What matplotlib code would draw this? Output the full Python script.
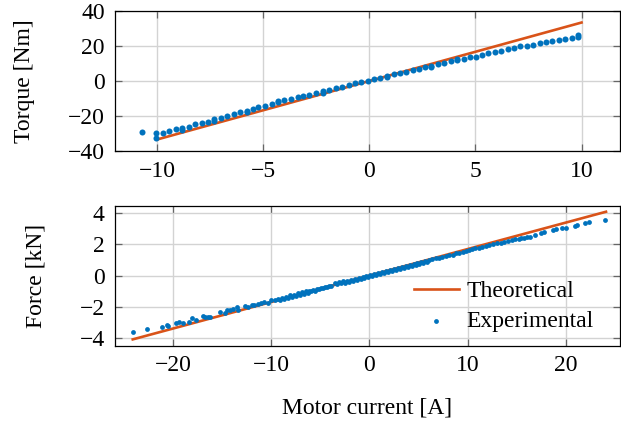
from matplotlib import pyplot as plt

# motor current vs torque (top)
theory_current_t = [-10.0, 10.0]
theory_torque = [-33.4, 33.4]
exp_current_t = [-10.73, -10.03, -10.03, -9.72, -9.42, -9.10, -8.80, -8.80, -8.50, -8.20,
                 -7.90, -7.60, -7.31, -7.31, -7.00, -6.70, -6.38, -6.08, -5.77, -5.77,
                 -5.50, -5.22, -4.90, -4.60, -4.28, -4.28, -4.00, -3.70, -3.38, -3.10,
                 -2.82, -2.50, -2.18, -2.18, -1.89, -1.57, -1.27, -0.96, -0.66, -0.38,
                 -0.08, 0.20, 0.52, 0.83, 0.83, 1.15, 1.43, 1.73, 2.04, 2.33, 2.64,
                 2.92, 2.92, 3.24, 3.54, 3.84, 4.14, 4.14, 4.45, 4.73, 5.05, 5.31,
                 5.58, 5.90, 6.21, 6.52, 6.81, 7.12, 7.41, 7.72, 8.03, 8.32, 8.60,
                 8.93, 9.23, 9.54, 9.83, 9.83]
exp_torque = [-29.0, -29.9, -32.7, -29.5, -28.6, -27.6, -27.0, -27.8, -26.1, -24.8,
              -24.2, -23.2, -21.7, -22.6, -21.0, -20.0, -19.0, -17.5, -17.0, -17.8,
              -16.0, -15.0, -14.1, -13.0, -11.4, -12.2, -10.9, -10.1, -9.3, -8.6,
              -7.8, -7.0, -5.9, -6.6, -5.1, -4.2, -3.2, -2.1, -1.3, -0.8,
              0.2, 1.1, 1.9, 3.0, 2.4, 3.8, 4.4, 5.3, 6.1, 6.9, 7.8,
              8.8, 8.2, 9.5, 10.5, 11.4, 12.0, 12.6, 12.6, 13.5, 13.9, 14.7,
              15.8, 16.7, 17.3, 18.1, 18.7, 19.8, 20.2, 20.8, 21.5, 22.1, 23.0,
              23.4, 24.0, 24.6, 25.3, 26.2]

# motor current vs force (bottom)
theory_current_f = [-24.1, 24.1]
theory_force = [-4.1, 4.1]
exp_current_f = [-24.1, -22.6, -21.1, -20.6, -20.5, -19.7, -19.4, -18.95, -18.4, -18.1,
                 -17.7, -16.9, -16.75, -16.4, -16.2, -15.2, -14.7, -14.5, -14.2, -13.9,
                 -13.5, -13.4, -12.7, -12.35, -12.0, -11.7, -11.3, -11.0, -10.7, -10.3,
                 -10.0, -9.6, -9.3,
                 -9.1, -8.9, -8.7, -8.5, -8.3, -8.1, -7.9, -7.7, -7.5, -7.3, -7.1,
                 -6.9, -6.7, -6.5, -6.3, -6.1, -5.9, -5.7, -5.5, -5.3, -5.1, -4.9,
                 -4.7, -4.5, -4.3, -4.1, -3.9, -3.5, -3.3, -3.1, -2.9, -2.7, -2.5,
                 -2.3, -2.1, -1.9, -1.7, -1.5, -1.3, -1.1, -0.9, -0.7, -0.5, -0.3,
                 -0.1, 0.1, 0.3, 0.5, 0.7, 0.9, 1.1, 1.3, 1.5, 1.7, 1.9, 2.1, 2.3,
                 2.5, 2.7, 2.9, 3.1, 3.3, 3.5, 3.7, 3.9, 4.1, 4.3, 4.5, 4.7, 4.9,
                 5.1, 5.3, 5.5, 5.7, 5.9, 6.1,
                 6.4, 6.8, 7.1, 7.4, 7.8, 8.1, 8.5, 8.8, 9.1, 9.5, 9.8, 10.15, 10.5,
                 10.8, 11.2, 11.5, 11.85, 12.2, 12.6, 13.0, 13.4, 13.7, 14.1, 14.5,
                 14.8, 15.2, 15.4, 15.7, 16.1, 16.4, 16.9, 17.5, 17.8, 18.7, 19.0,
                 19.6, 20.07, 20.9, 21.1, 22.0, 22.4, 23.96]
exp_force = [-3.64, -3.43, -3.32, -3.17, -3.25, -3.07, -2.96, -3.03, -2.96, -2.75,
             -2.86, -2.60, -2.65, -2.69, -2.65, -2.33, -2.39, -2.22, -2.18, -2.12,
             -2.05, -2.18, -1.97, -2.05, -1.90, -1.90, -1.80, -1.76, -1.69, -1.76,
             -1.59, -1.54, -1.48,
             -1.56, -1.42, -1.49, -1.35, -1.42, -1.28, -1.36, -1.22, -1.30, -1.14, -1.23,
             -1.07, -1.17, -1.01, -1.10, -0.96, -1.02, -0.90, -0.97, -0.84, -0.89, -0.77,
             -0.83, -0.71, -0.76, -0.64, -0.69, -0.49, -0.55, -0.42, -0.49, -0.37, -0.45,
             -0.33, -0.40, -0.27, -0.33, -0.20, -0.27, -0.13, -0.20, -0.08, -0.14, -0.01,
             -0.07, 0.05, 0.00, 0.11, 0.05, 0.17, 0.11, 0.23, 0.16, 0.30, 0.22, 0.36, 0.28,
             0.42, 0.35, 0.49, 0.41, 0.55, 0.48, 0.61, 0.54, 0.68, 0.60, 0.74, 0.67, 0.80,
             0.73, 0.87, 0.79, 0.93, 0.86, 0.99,
             1.06, 1.10, 1.16, 1.21, 1.27, 1.31, 1.35, 1.42, 1.48, 1.52, 1.59, 1.65, 1.69,
             1.76, 1.80, 1.86, 1.90, 1.95, 2.01, 2.07, 2.11, 2.16, 2.22, 2.27,
             2.33, 2.33, 2.39, 2.43, 2.48, 2.50, 2.60, 2.75, 2.79, 2.92, 2.96,
             3.03, 3.07, 3.17, 3.24, 3.39, 3.43, 3.60]

orange = '#D95319'
blue = '#0072BD'

plt.rcParams['font.family'] = ['Liberation Serif', 'DejaVu Serif']
plt.rcParams['font.size'] = 17

fig = plt.figure(figsize=(6.21, 4.22), dpi=100)
ax1 = fig.add_axes([0.1845, 0.642, 0.8135, 0.332])
ax2 = fig.add_axes([0.1845, 0.181, 0.8135, 0.332])

for ax in (ax1, ax2):
    ax.grid(True, color='#d3d3d3', linewidth=1.0)
    ax.set_axisbelow(True)
    ax.tick_params(direction='in', top=True, right=True, length=5,
                   width=0.9, color='0.4', pad=7, labelsize=17)
    for spine in ax.spines.values():
        spine.set_linewidth(0.9)

ax1.plot(theory_current_t, theory_torque, color=orange, linewidth=1.9)
ax1.scatter(exp_current_t, exp_torque, s=19, color=blue, linewidths=0, zorder=3)
ax1.set_xlim(-12.0, 11.8)
ax1.set_ylim(-40, 40)
ax1.set_xticks([-10, -5, 0, 5, 10])
ax1.set_yticks([-40, -20, 0, 20, 40])
ax1.set_ylabel('Torque [Nm]', labelpad=24)

ax2.plot(theory_current_f, theory_force, color=orange, linewidth=1.9, label='Theoretical')
ax2.scatter(exp_current_f, exp_force, s=12, color=blue, linewidths=0, zorder=3,
            label='Experimental')
ax2.set_xlim(-25.95, 25.5)
ax2.set_ylim(-4.5, 4.5)
ax2.set_xticks([-20, -10, 0, 10, 20])
ax2.set_yticks([-4, -2, 0, 2, 4])
ax2.set_ylabel('Force [kN]', labelpad=24)
ax2.set_xlabel('Motor current [A]', labelpad=15)
ax2.legend(loc='upper left', bbox_to_anchor=(0.592, 0.465), frameon=False,
           borderpad=0, borderaxespad=0, handlelength=1.9, handletextpad=0.35,
           labelspacing=0.38, scatterpoints=1)

fig.align_ylabels([ax1, ax2])
fig.savefig('out.png', dpi=100)
